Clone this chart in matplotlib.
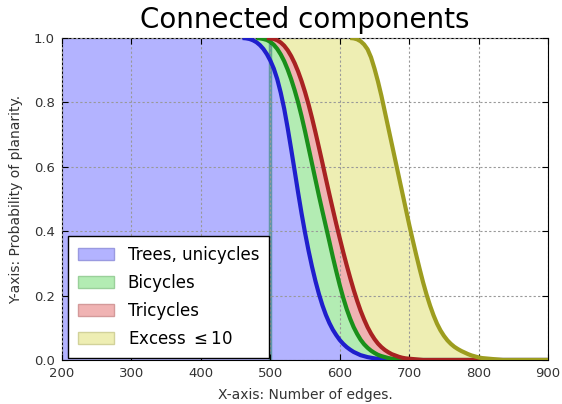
import numpy as np
import matplotlib
matplotlib.use("Agg")
import matplotlib.pyplot as plt

# === DONNÉES ===
edges = np.arange(200, 905, 5)

# partie décroissante de chaque courbe (pas de 5 arêtes)
trees_start = 460
trees_drop = [
    1.0, 0.999, 0.997, 0.993, 0.987, 0.978, 0.966, 0.95, 0.93, 0.905,
    0.872, 0.83, 0.78, 0.72, 0.655, 0.588, 0.52, 0.455, 0.395, 0.34,
    0.29, 0.245, 0.205, 0.17, 0.14, 0.115, 0.094, 0.077, 0.062, 0.05,
    0.04, 0.032, 0.025, 0.02, 0.015, 0.012, 0.009, 0.007, 0.005, 0.004,
    0.003, 0.002, 0.001,
]

bicycles_start = 480
bicycles_drop = [
    1.0, 0.999, 0.997, 0.994, 0.988, 0.979, 0.966, 0.949, 0.928, 0.902,
    0.872, 0.838, 0.80, 0.757, 0.71, 0.66, 0.61, 0.56, 0.51, 0.462,
    0.415, 0.368, 0.32, 0.275, 0.232, 0.193, 0.158, 0.128, 0.102, 0.081,
    0.063, 0.049, 0.038, 0.029, 0.022, 0.016, 0.012, 0.009, 0.006, 0.004,
    0.003, 0.002, 0.001,
]

tricycles_start = 495
tricycles_drop = [
    1.0, 0.999, 0.997, 0.993, 0.986, 0.976, 0.962, 0.944, 0.922, 0.896,
    0.866, 0.832, 0.794, 0.752, 0.707, 0.66, 0.612, 0.563, 0.515, 0.468,
    0.422, 0.378, 0.335, 0.294, 0.255, 0.218, 0.184, 0.153, 0.126, 0.102,
    0.082, 0.065, 0.051, 0.04, 0.031, 0.024, 0.018, 0.014, 0.01, 0.007,
    0.005, 0.004, 0.003, 0.002, 0.001,
]

excess_start = 615
excess_drop = [
    1.0, 0.999, 0.996, 0.99, 0.98, 0.965, 0.94, 0.905, 0.865, 0.82,
    0.77, 0.72, 0.67, 0.62, 0.57, 0.52, 0.47, 0.42, 0.373, 0.327,
    0.283, 0.241, 0.203, 0.169, 0.139, 0.113, 0.092, 0.075, 0.061, 0.05,
    0.041, 0.034, 0.028, 0.023, 0.018, 0.014, 0.011, 0.008, 0.006, 0.005,
    0.004, 0.003, 0.002, 0.001,
]

labels = ["Trees, unicycles", "Bicycles", "Tricycles", r"Excess $\leq 10$"]
x_ticks = [200, 300, 400, 500, 600, 700, 800, 900]
y_ticks = [0.0, 0.2, 0.4, 0.6, 0.8, 1.0]
threshold = 500


def full_curve(start, drop):
    # 1 avant la chute, 0 après la fin de la liste
    n_before = int((start - edges[0]) // 5)
    n_after = len(edges) - n_before - len(drop)
    return np.array([1.0] * n_before + drop + [0.0] * n_after)


starts = [trees_start, bicycles_start, tricycles_start, excess_start]
curves = [np.zeros(len(edges)),
          full_curve(trees_start, trees_drop),
          full_curve(bicycles_start, bicycles_drop),
          full_curve(tricycles_start, tricycles_drop),
          full_curve(excess_start, excess_drop)]

# ───── Tracé ─────
fig = plt.figure(figsize=(5.62, 4.04), dpi=100)
ax = fig.add_axes([0.1103, 0.1089, 0.865, 0.797])

fills = ["#b3b3ff", "#b3ecb3", "#f0b3b3", "#eeeeb3"]
edgecols = ["#9a9ae0", "#9ad09a", "#d49a9a", "#d2d29a"]
lines = ["#1f1fcc", "#1a8f1a", "#a82222", "#9d9d1f"]

for i in range(4):
    ax.fill_between(edges, curves[i], curves[i + 1], facecolor=fills[i],
                    edgecolor=edgecols[i], linewidth=0, label=labels[i],
                    zorder=1)

ax.axvline(threshold, color="#3f8a80", alpha=0.7, lw=2.5, zorder=2)

for i in range(4):
    keep = edges >= starts[i]
    ax.plot(edges[keep], curves[i + 1][keep], color=lines[i], lw=3, zorder=3,
            solid_capstyle="butt")

ax.set_xlim(200, 900)
ax.set_ylim(0, 1)
ax.set_xticks(x_ticks)
ax.set_yticks(y_ticks)
ax.tick_params(direction="in", top=True, right=True, labelsize=9.5, length=4,
               pad=5, labelcolor="#333333")
ax.grid(True, color="0.6", linestyle=(0, (2, 2)), lw=0.8)
ax.set_axisbelow(False)

ax.set_title("Connected components", fontsize=20, pad=7)
ax.set_xlabel("X-axis: Number of edges.", fontsize=10, labelpad=6,
              color="#333333")
ax.set_ylabel("Y-axis: Probability of planarity.", fontsize=10, labelpad=8,
              color="#333333")

leg = ax.legend(loc="lower left", bbox_to_anchor=(0.012, 0.006),
                fontsize=12, fancybox=False, framealpha=1, edgecolor="black",
                borderaxespad=0.0, borderpad=0.6, handlelength=2.2,
                handletextpad=0.8, labelspacing=0.6)
leg.get_frame().set_linewidth(1.0)
for patch in leg.get_patches():
    patch.set_linewidth(1.0)

fig.savefig("out.png", dpi=100)
